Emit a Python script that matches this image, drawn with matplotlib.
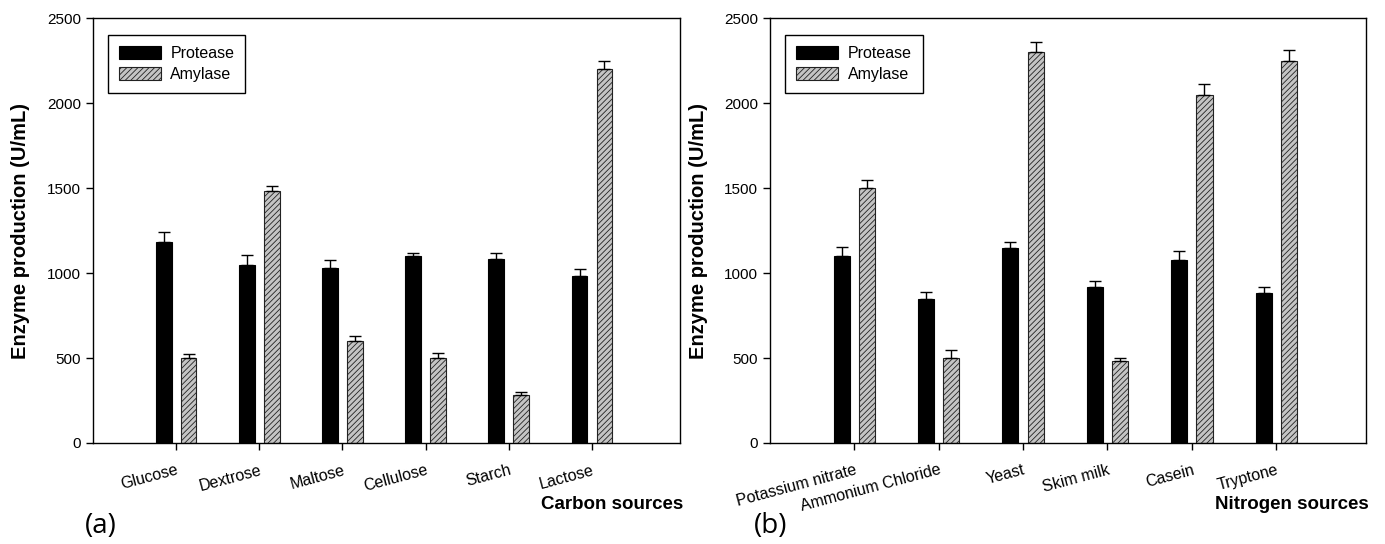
import matplotlib
matplotlib.use('Agg')
import matplotlib.pyplot as plt
import numpy as np

# data
carbon = ['Glucose', 'Dextrose', 'Maltose', 'Cellulose', 'Starch', 'Lactose']
carbon_protease = [1180, 1050, 1030, 1100, 1080, 980]
carbon_protease_err = [60, 55, 45, 20, 35, 42]
carbon_amylase = [500, 1480, 600, 500, 285, 2200]
carbon_amylase_err = [25, 35, 30, 30, 13, 50]

nitrogen = ['Potassium nitrate', 'Ammonium Chloride', 'Yeast', 'Skim milk', 'Casein', 'Tryptone']
nitrogen_protease = [1100, 850, 1150, 920, 1075, 880]
nitrogen_protease_err = [55, 38, 33, 33, 53, 40]
nitrogen_amylase = [1500, 500, 2300, 480, 2045, 2245]
nitrogen_amylase_err = [45, 45, 58, 20, 65, 70]

plt.rcParams['font.family'] = ['Liberation Sans', 'DejaVu Sans']
plt.rcParams['hatch.linewidth'] = 0.6

fig = plt.figure(figsize=(13.85, 5.44), dpi=100)
ax1 = fig.add_axes([0.0671, 0.1857, 0.424, 0.781])
ax2 = fig.add_axes([0.556, 0.1857, 0.430, 0.781])


def draw_panel(ax, names, prot, prot_err, amy, amy_err, xlabel):
    x = np.arange(1, len(names) + 1)
    w = 0.19
    err_kw = dict(ecolor='black', elinewidth=1, capsize=4.5, capthick=1)
    ax.bar(x - 0.15, prot, w, color='black', edgecolor='black', linewidth=0.8,
           yerr=[np.zeros(len(prot)), prot_err], error_kw=err_kw, label='Protease')
    ax.bar(x + 0.15, amy, w, color='#c4c4c4', edgecolor='#222222', linewidth=0.8,
           hatch='//////', yerr=[np.zeros(len(amy)), amy_err], error_kw=err_kw,
           label='Amylase')
    ax.set_xlim(0, 7.06)
    ax.set_ylim(0, 2500)
    ax.set_yticks([0, 500, 1000, 1500, 2000, 2500])
    ax.set_xticks(x)
    ax.set_xticklabels(names, rotation=15, ha='right', rotation_mode='anchor')
    ax.tick_params(axis='both', labelsize=11, direction='out', length=5, width=1)
    ax.tick_params(axis='x', labelsize=11.5, pad=9)
    ax.set_ylabel('Enzyme production (U/mL)', fontsize=14.5, fontweight='bold', labelpad=12)
    ax.text(1.005, -0.145, xlabel, transform=ax.transAxes, ha='right', va='center',
            fontsize=13.5, fontweight='bold')
    for s in ax.spines.values():
        s.set_linewidth(1)
    leg = ax.legend(loc='upper left', bbox_to_anchor=(0.012, 0.98), fancybox=False,
                    edgecolor='black', fontsize=11.5, handlelength=2.6, handleheight=0.9,
                    borderpad=0.7, labelspacing=0.35, handletextpad=0.6, framealpha=1)
    leg.get_frame().set_linewidth(1)


draw_panel(ax1, carbon, carbon_protease, carbon_protease_err,
           carbon_amylase, carbon_amylase_err, 'Carbon sources')
draw_panel(ax2, nitrogen, nitrogen_protease, nitrogen_protease_err,
           nitrogen_amylase, nitrogen_amylase_err, 'Nitrogen sources')

fig.text(0.061, 0.02, '(a)', fontsize=20, family=['Open Sans', 'DejaVu Sans'])
fig.text(0.544, 0.02, '(b)', fontsize=20, family=['Open Sans', 'DejaVu Sans'])

fig.savefig('out.png', dpi=100)
